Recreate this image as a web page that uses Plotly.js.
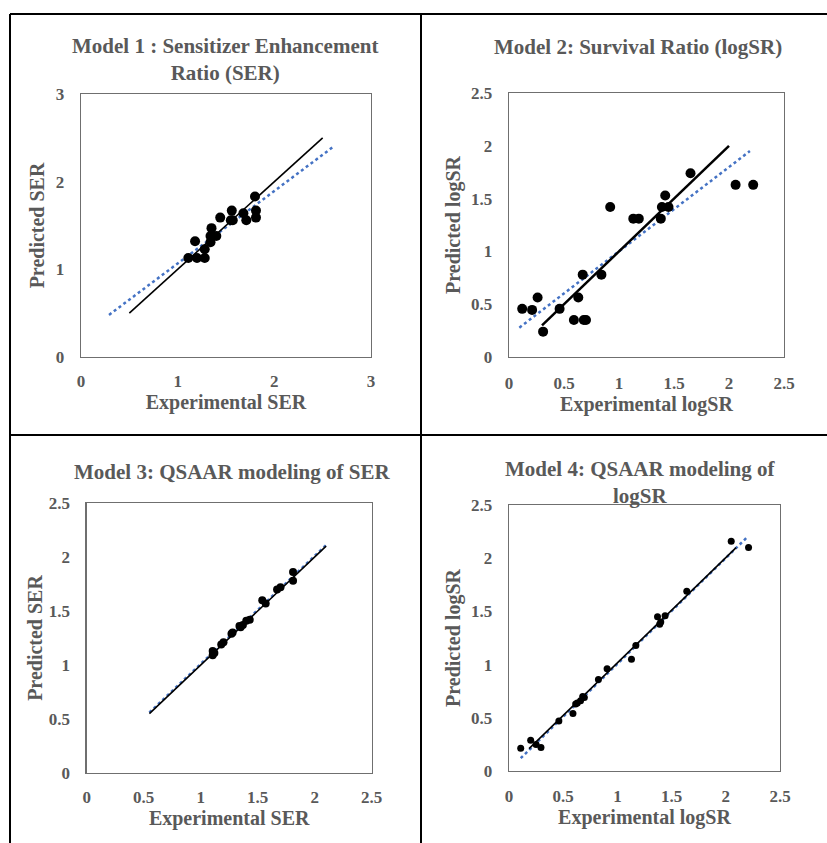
<!DOCTYPE html>
<html>
<head>
<meta charset="utf-8">
<script src="https://cdn.plot.ly/plotly-3.0.1.min.js"></script>
<style>html,body{margin:0;padding:0;background:#fff;}#chart{width:827px;height:843px;}</style>
</head>
<body>
<div id="chart"></div>
<script>
// ---- Model 1: SER ----
const m1ExpSER = [1.11, 1.18, 1.20, 1.28, 1.28, 1.35, 1.34, 1.34, 1.40, 1.44, 1.56, 1.55, 1.57, 1.68, 1.71, 1.80, 1.81, 1.81];
const m1PredSER = [1.13, 1.32, 1.13, 1.23, 1.13, 1.47, 1.38, 1.31, 1.38, 1.59, 1.67, 1.56, 1.56, 1.64, 1.56, 1.83, 1.67, 1.59];
const m1IdealX = [0.5, 2.5];
const m1IdealY = [0.5, 2.5];
const m1TrendX = [0.29, 2.6];
const m1TrendY = [0.48, 2.39];

// ---- Model 2: logSR ----
const m2ExpLogSR = [0.12, 0.21, 0.26, 0.31, 0.46, 0.59, 0.63, 0.67, 0.68, 0.70, 0.84, 0.92, 1.13, 1.18, 1.38, 1.39, 1.42, 1.45, 1.65, 2.06, 2.22];
const m2PredLogSR = [0.456, 0.446, 0.563, 0.24, 0.456, 0.35, 0.563, 0.78, 0.35, 0.35, 0.78, 1.42, 1.31, 1.31, 1.31, 1.42, 1.53, 1.42, 1.74, 1.63, 1.63];
const m2IdealX = [0.3, 2.0];
const m2IdealY = [0.3, 2.0];
const m2TrendX = [0.094, 2.19];
const m2TrendY = [0.278, 1.95];

// ---- Model 3: QSAAR SER ----
const m3ExpSER = [1.105, 1.105, 1.12, 1.18, 1.20, 1.27, 1.28, 1.34, 1.35, 1.37, 1.40, 1.43, 1.54, 1.57, 1.67, 1.70, 1.81, 1.81];
const m3PredSER = [1.13, 1.09, 1.11, 1.19, 1.21, 1.29, 1.30, 1.36, 1.35, 1.37, 1.41, 1.42, 1.60, 1.57, 1.70, 1.72, 1.86, 1.78];
const m3IdealX = [0.55, 2.1];
const m3IdealY = [0.55, 2.1];
const m3TrendX = [0.55, 2.1];
const m3TrendY = [0.56, 2.11];

// ---- Model 4: QSAAR logSR ----
const m4ExpLogSR = [0.108, 0.20, 0.25, 0.295, 0.46, 0.59, 0.615, 0.63, 0.66, 0.68, 0.695, 0.825, 0.905, 1.13, 1.17, 1.37, 1.39, 1.40, 1.44, 1.64, 2.05, 2.21];
const m4PredLogSR = [0.213, 0.29, 0.25, 0.22, 0.47, 0.54, 0.63, 0.64, 0.66, 0.70, 0.69, 0.86, 0.96, 1.05, 1.18, 1.45, 1.38, 1.40, 1.46, 1.69, 2.16, 2.10];
const m4IdealX = [0.185, 2.095];
const m4IdealY = [0.21, 2.10];
const m4TrendX = [0.108, 2.19];
const m4TrendY = [0.12, 2.19];

const titles = ["Model 1 : Sensitizer Enhancement<br>Ratio (SER)", "Model 2: Survival Ratio (logSR)", "Model 3: QSAAR modeling of SER", "Model 4: QSAAR modeling of<br>logSR"];
const xTitles = ["Experimental SER", "Experimental logSR", "Experimental SER", "Experimental logSR"];
const yTitles = ["Predicted SER", "Predicted logSR", "Predicted SER", "Predicted logSR"];

const BLUE = "#4472C4";
const GRAY = "#595959";
const FONT = "Liberation Serif";

function panel(idx, ex, pr, ix, iy, tx, ty, msize, lw) {
  const xa = idx === 1 ? "x" : "x" + idx;
  const ya = idx === 1 ? "y" : "y" + idx;
  return [
    {x: tx, y: ty, xaxis: xa, yaxis: ya, mode: "lines", line: {color: BLUE, width: 2.5, dash: "dot"}, hoverinfo: "skip"},
    {x: ix, y: iy, xaxis: xa, yaxis: ya, mode: "lines", line: {color: "#000", width: lw}, hoverinfo: "skip"},
    {x: ex, y: pr, xaxis: xa, yaxis: ya, mode: "markers", marker: {color: "#000", size: msize}}
  ];
}

const data = [].concat(
  panel(1, m1ExpSER, m1PredSER, m1IdealX, m1IdealY, m1TrendX, m1TrendY, 10, 1.6),
  panel(2, m2ExpLogSR, m2PredLogSR, m2IdealX, m2IdealY, m2TrendX, m2TrendY, 10, 2.5),
  panel(3, m3ExpSER, m3PredSER, m3IdealX, m3IdealY, m3TrendX, m3TrendY, 8, 1.6),
  panel(4, m4ExpLogSR, m4PredLogSR, m4IdealX, m4IdealY, m4TrendX, m4TrendY, 7, 1.6)
);

function axis(domain, range, dtick, title, anchor, standoff, tls) {
  return {
    domain: domain, range: range, dtick: dtick, tick0: 0,
    showgrid: false, zeroline: false, showline: true, mirror: true,
    linecolor: "#6f6f6f", linewidth: 1.3, ticks: "",
    ticklabelstandoff: tls,
    tickfont: {family: FONT, size: 17, color: GRAY, weight: 700},
    title: {text: title, font: {family: FONT, size: 20, color: GRAY, weight: 700}, standoff: standoff},
    automargin: false, anchor: anchor, fixedrange: true
  };
}

const W = 827, H = 843;
const px = (a, b) => [a / W, b / W];
const py = (top, bot) => [1 - bot / H, 1 - top / H];

const layout = {
  width: W, height: H, margin: {l: 0, r: 0, t: 0, b: 0},
  paper_bgcolor: "#fff", plot_bgcolor: "#fff", showlegend: false,
  font: {family: FONT, color: GRAY},
  xaxis: axis(px(81, 371), [0, 3], 1, xTitles[0], "y", 2, 8),
  yaxis: axis(py(94, 357), [0, 3], 1, yTitles[0], "x", 5, 12),
  xaxis2: axis(px(509, 784), [0, 2.5], 0.5, xTitles[1], "y2", 4, 10),
  yaxis2: axis(py(93, 357), [0, 2.5], 0.5, yTitles[1], "x2", 5, 12),
  xaxis3: axis(px(86.7, 371.7), [0, 2.5], 0.5, xTitles[2], "y3", 1, 8),
  yaxis3: axis(py(503, 773), [0, 2.5], 0.5, yTitles[2], "x3", 0, 12),
  xaxis4: axis(px(509, 780), [0, 2.5], 0.5, xTitles[3], "y4", 2, 9),
  yaxis4: axis(py(505, 771), [0, 2.5], 0.5, yTitles[3], "x4", 5, 12),
  annotations: [
    {text: titles[0], x: 225 / W, y: 1 - 60 / H},
    {text: titles[1], x: 638 / W, y: 1 - 47 / H},
    {text: titles[2], x: 232 / W, y: 1 - 472 / H},
    {text: titles[3], x: 640 / W, y: 1 - 482 / H}
  ].map(a => Object.assign(a, {xref: "paper", yref: "paper", xanchor: "center", yanchor: "middle", showarrow: false,
    font: {family: FONT, size: 21, color: GRAY, weight: 700}})),
  shapes: [
    {x0: 10 / W, x1: 1, y0: 1 - 14 / H, y1: 1 - 14 / H},
    {x0: 10 / W, x1: 10 / W, y0: 0, y1: 1 - 14 / H},
    {x0: 421 / W, x1: 421 / W, y0: 0, y1: 1 - 14 / H},
    {x0: 10 / W, x1: 1, y0: 1 - 435 / H, y1: 1 - 435 / H}
  ].map(s => Object.assign(s, {type: "line", xref: "paper", yref: "paper", line: {color: "#000", width: 2}}))
};

Plotly.newPlot("chart", data, layout, {displayModeBar: false, staticPlot: true});
</script>
</body>
</html>
